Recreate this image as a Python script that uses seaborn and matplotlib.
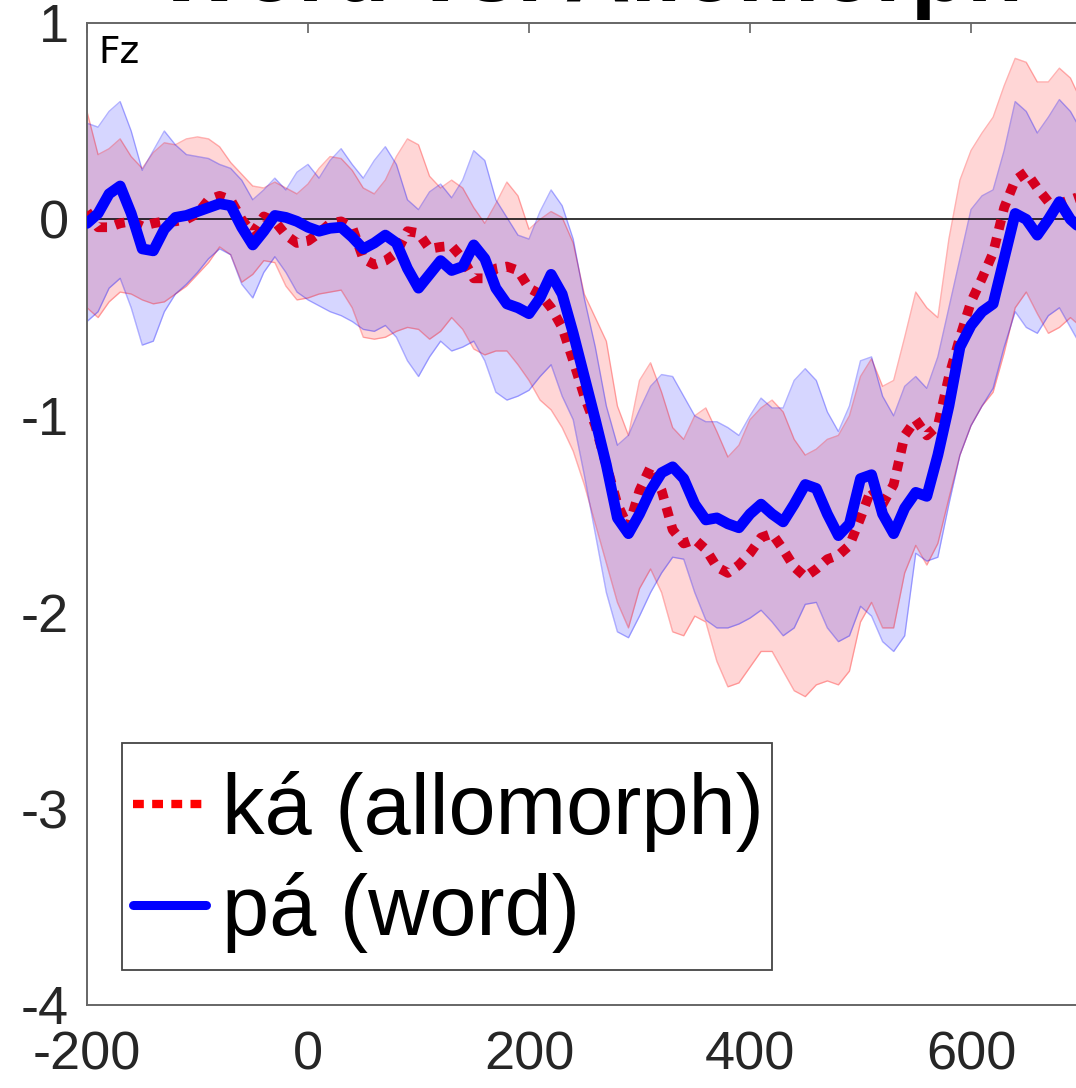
import numpy as np
import pandas as pd
import seaborn as sns
import matplotlib.pyplot as plt
from matplotlib.lines import Line2D
from matplotlib.patches import Rectangle

# time axis (ms), one value every 10 ms
time_ms = list(range(-200, 710, 10))

# ká (allomorph) - mean and band
ka_mean = [0.04, -0.04, -0.04, -0.02, -0.01, -0.035, -0.02, -0.01, -0.01, 0.0,
           0.03, 0.1, 0.12, 0.1, 0.0, -0.07, 0.015, -0.01, -0.08, -0.12,
           -0.11, -0.07, -0.02, -0.01, -0.04, -0.2, -0.23, -0.21, -0.17, -0.06,
           -0.07, -0.15, -0.14, -0.135, -0.2, -0.3, -0.3, -0.25, -0.24, -0.26,
           -0.35, -0.38, -0.45, -0.55, -0.72, -0.9, -1.05, -1.25, -1.45, -1.57,
           -1.38, -1.26, -1.38, -1.58, -1.65, -1.63, -1.68, -1.77, -1.8, -1.76,
           -1.7, -1.62, -1.6, -1.68, -1.77, -1.82, -1.78, -1.73, -1.71, -1.66,
           -1.52, -1.37, -1.45, -1.35, -1.1, -1.02, -1.1, -1.05, -0.8, -0.6,
           -0.42, -0.3, -0.17, 0.06, 0.2, 0.24, 0.16, 0.09, 0.08, 0.1, 0.12]
ka_upper = [0.55, 0.33, 0.36, 0.41, 0.32, 0.26, 0.34, 0.39, 0.38, 0.41,
            0.42, 0.41, 0.37, 0.29, 0.23, 0.17, 0.16, 0.19, 0.16, 0.13,
            0.18, 0.26, 0.32, 0.31, 0.25, 0.16, 0.13, 0.2, 0.32, 0.41,
            0.38, 0.22, 0.16, 0.2, 0.16, 0.06, -0.02, 0.08, 0.19, 0.12,
            -0.05, 0.0, 0.04, 0.01, -0.12, -0.38, -0.5, -0.62, -0.95, -1.1,
            -0.82, -0.73, -0.88, -1.06, -1.12, -1.0, -0.96, -1.08, -1.21, -1.15,
            -1.02, -0.96, -0.92, -0.98, -1.12, -1.2, -1.17, -1.12, -1.1, -1.0,
            -0.8, -0.71, -0.85, -0.82, -0.6, -0.37, -0.45, -0.5, -0.1, 0.2,
            0.35, 0.44, 0.52, 0.68, 0.82, 0.8, 0.7, 0.7, 0.77, 0.72, 0.6]
ka_lower = [-0.45, -0.5, -0.42, -0.37, -0.38, -0.41, -0.43, -0.42, -0.38, -0.34,
            -0.28, -0.22, -0.14, -0.18, -0.32, -0.28, -0.21, -0.22, -0.34, -0.41,
            -0.4, -0.38, -0.37, -0.36, -0.45, -0.6, -0.61, -0.6, -0.57, -0.55,
            -0.56, -0.61, -0.57, -0.5, -0.56, -0.66, -0.69, -0.67, -0.67, -0.74,
            -0.82, -0.92, -0.97, -1.06, -1.18, -1.35, -1.55, -1.75, -1.95, -2.08,
            -1.88, -1.78, -1.9, -2.1, -2.12, -2.02, -2.05, -2.25, -2.38, -2.36,
            -2.28, -2.2, -2.2, -2.3, -2.4, -2.43, -2.37, -2.35, -2.37, -2.3,
            -2.05, -1.95, -2.08, -2.08, -1.8, -1.66, -1.76, -1.65, -1.42, -1.2,
            -1.05, -0.95, -0.88, -0.68, -0.45, -0.37, -0.48, -0.58, -0.55, -0.5, -0.55]

# pá (word) - mean and band
pa_mean = [-0.02, 0.03, 0.13, 0.17, 0.03, -0.15, -0.16, -0.05, 0.01, 0.02,
           0.04, 0.06, 0.08, 0.07, -0.04, -0.13, -0.06, 0.02, 0.01, -0.01,
           -0.04, -0.06, -0.045, -0.04, -0.09, -0.15, -0.12, -0.08, -0.12, -0.25,
           -0.35, -0.28, -0.21, -0.26, -0.24, -0.13, -0.2, -0.35, -0.43, -0.45,
           -0.48, -0.4, -0.28, -0.38, -0.58, -0.8, -1.02, -1.25, -1.52, -1.6,
           -1.5, -1.38, -1.29, -1.26, -1.32, -1.45, -1.53, -1.52, -1.55, -1.57,
           -1.5, -1.45, -1.5, -1.54, -1.45, -1.35, -1.37, -1.5, -1.61, -1.55,
           -1.32, -1.3, -1.5, -1.6, -1.47, -1.39, -1.41, -1.2, -0.95, -0.65,
           -0.54, -0.47, -0.43, -0.2, 0.03, 0.0, -0.08, 0.0, 0.09, 0.0, -0.05]
pa_upper = [0.49, 0.47, 0.55, 0.6, 0.45, 0.25, 0.35, 0.45, 0.38, 0.33,
            0.32, 0.31, 0.28, 0.26, 0.2, 0.1, 0.15, 0.21, 0.15, 0.24,
            0.28, 0.21, 0.3, 0.36, 0.28, 0.21, 0.3, 0.37, 0.28, 0.1,
            0.05, 0.14, 0.18, 0.11, 0.2, 0.35, 0.3, 0.1, 0.01, -0.08,
            -0.1, 0.04, 0.15, 0.07, -0.1, -0.4, -0.65, -0.95, -1.15, -1.1,
            -0.97, -0.85, -0.79, -0.8, -0.9, -1.0, -1.03, -1.03, -1.06, -1.1,
            -1.0, -0.91, -0.96, -0.96, -0.82, -0.76, -0.82, -0.98, -1.08, -0.95,
            -0.72, -0.7, -0.9, -1.0, -0.85, -0.8, -0.86, -0.7, -0.45, -0.2,
            0.05, 0.12, 0.15, 0.35, 0.6, 0.55, 0.44, 0.52, 0.61, 0.55, 0.45]
pa_lower = [-0.52, -0.47, -0.35, -0.3, -0.45, -0.64, -0.62, -0.47, -0.38, -0.33,
            -0.27, -0.2, -0.15, -0.18, -0.33, -0.4, -0.27, -0.19, -0.27, -0.37,
            -0.41, -0.44, -0.47, -0.49, -0.52, -0.56, -0.57, -0.54, -0.6, -0.72,
            -0.8, -0.7, -0.62, -0.67, -0.65, -0.62, -0.72, -0.88, -0.92, -0.9,
            -0.87, -0.8, -0.74, -0.9, -1.02, -1.3, -1.6, -1.9, -2.1, -2.13,
            -2.02, -1.9, -1.8, -1.72, -1.73, -1.9, -2.04, -2.08, -2.08, -2.06,
            -2.03, -1.99, -2.05, -2.12, -2.08, -1.96, -1.95, -2.08, -2.15, -2.12,
            -1.97, -2.02, -2.15, -2.2, -2.12, -1.7, -1.74, -1.72, -1.45, -1.2,
            -1.05, -0.95, -0.86, -0.65, -0.47, -0.55, -0.58, -0.49, -0.45, -0.55, -0.65]

labels = ['ká (allomorph)', 'pá (word)']

sns.set_theme(style='white')
plt.rcParams['font.family'] = ['Liberation Sans', 'DejaVu Sans']
plt.rcParams['axes.unicode_minus'] = False

df = pd.DataFrame({'time': time_ms, 'ka': ka_mean, 'pa': pa_mean})

fig = plt.figure(figsize=(10.76, 10.88), dpi=100)
# axes runs past the right edge of the picture (cropped figure)
ax = fig.add_axes([87/1076, 83/1088, 1105/1076, 982/1088])
W, H = 1105.0, 982.0   # axes size in pixels, for placing boxes

# confidence bands
ax.fill_between(time_ms, ka_lower, ka_upper, color='#ff0000', alpha=0.16, lw=0)
ax.fill_between(time_ms, pa_lower, pa_upper, color='#0000ff', alpha=0.16, lw=0)
for b in (ka_upper, ka_lower):
    ax.plot(time_ms, b, color='#ff0000', alpha=0.3, lw=1.0)
for b in (pa_upper, pa_lower):
    ax.plot(time_ms, b, color='#0000ff', alpha=0.3, lw=1.0)

ax.axhline(0, color='black', lw=1.1, zorder=2)

sns.lineplot(data=df, x='time', y='ka', ax=ax, color='#d5001f', lw=7,
             linestyle=(0, (1.0, 0.9)), dash_capstyle='butt',
             dash_joinstyle='round', zorder=3)
sns.lineplot(data=df, x='time', y='pa', ax=ax, color='#0000ff', lw=7.8,
             solid_joinstyle='round', solid_capstyle='round', zorder=4)

ax.set_xlim(-200, 800)
ax.set_ylim(-4, 1)
ax.set_xticks([-200, 0, 200, 400, 600])
ax.set_yticks([-4, -3, -2, -1, 0, 1])
ax.set_xlabel('')
ax.set_ylabel('')
ax.tick_params(axis='x', direction='in', length=7, width=1.1, color='#555555',
               labelsize=39, labelcolor='#262626', pad=18, top=True)
ax.tick_params(axis='y', direction='in', length=7, width=1.1, color='#555555',
               labelsize=39, labelcolor='#262626', pad=13)
for side in ('left', 'bottom', 'top'):
    ax.spines[side].set_color('#666666')
    ax.spines[side].set_linewidth(1.4)
ax.spines['right'].set_visible(False)

ax.text((98 - 87)/W, 1 - 12/H, 'Fz', transform=ax.transAxes, fontsize=27,
        family='DejaVu Sans', color='black', ha='left', va='top')

# legend: box drawn separately, entries placed without frame
box = Rectangle(((122 - 87)/W, (1005 - 970)/H), 650/W, 227/H,
                transform=ax.transAxes, facecolor='white', edgecolor='#444444',
                lw=1.3, zorder=6)
ax.add_patch(box)
handles = [Line2D([], [], color='#ff0000', lw=6, linestyle=(0, (1.3, 1.0)),
                  dash_capstyle='butt'),
           Line2D([], [], color='#0000ff', lw=6.5)]
leg = ax.legend(handles, labels, loc='lower left',
                bbox_to_anchor=((133 - 87)/W, (1005 - 953)/H),
                fontsize=61, frameon=False, borderpad=0, labelspacing=0.24,
                handlelength=0.86, handletextpad=0.19, borderaxespad=0,
                labelcolor='black')
leg.set_zorder(7)

# cropped title at the very top
fig.text(590/1076, 1 - 1/1088, 'Word vs. Allomorph', ha='center', va='baseline',
         fontsize=66, fontweight='bold', color='black')

fig.savefig('out.png', dpi=100)
